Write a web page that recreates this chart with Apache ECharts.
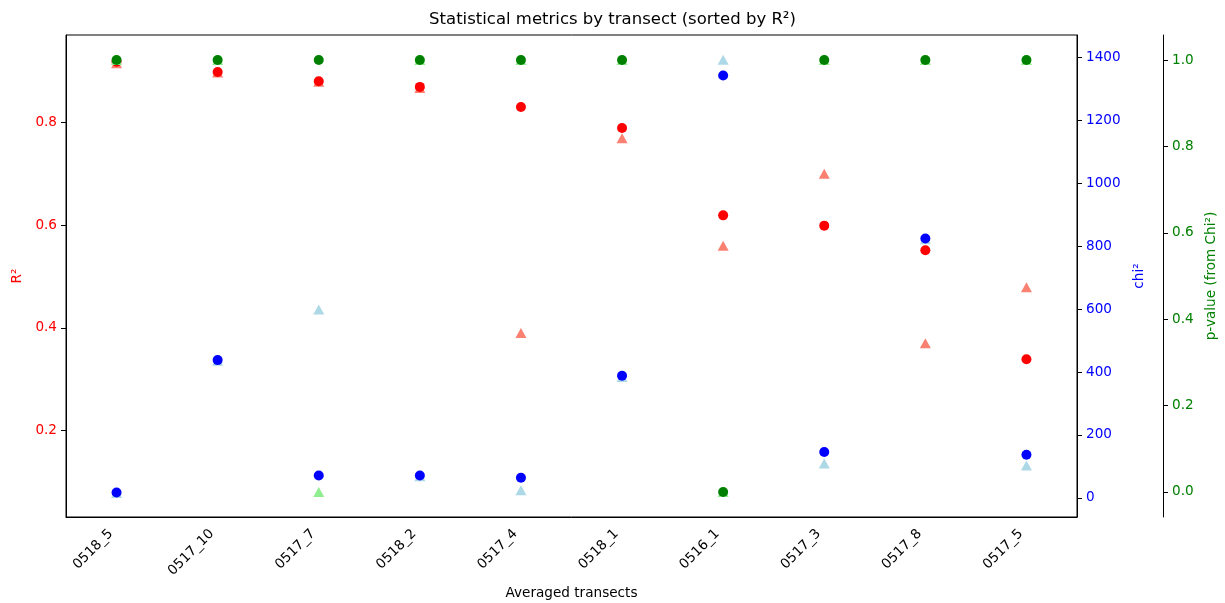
<!DOCTYPE html>
<html>
<head>
<meta charset="utf-8">
<script src="https://cdn.jsdelivr.net/npm/echarts@6/dist/echarts.min.js"></script>
<style>
  html, body { margin: 0; padding: 0; background: #fff; }
  #chart { width: 1225px; height: 603px; }
</style>
</head>
<body>
<div id="chart"></div>
<script>
// transects, sorted by R2
const transects = ['0518_5', '0517_10', '0517_7', '0518_2', '0517_4', '0518_1', '0516_1', '0517_3', '0517_8', '0517_5'];

// circles
const r2 = [0.918, 0.898, 0.880, 0.869, 0.830, 0.789, 0.619, 0.599, 0.551, 0.339];
const chi2 = [17, 438, 71, 71, 64, 388, 1343, 146, 825, 137];
const pValue = [1.0, 1.0, 1.0, 1.0, 1.0, 1.0, 0.0, 1.0, 1.0, 1.0];

// triangles
const r2Alt = [0.915, 0.897, 0.879, 0.867, 0.390, 0.769, 0.560, 0.700, 0.370, 0.479];
const chi2Alt = [15, 436, 599, 69, 24, 384, 1393, 109, 822, 103];
const pValueAlt = [1.0, 1.0, 0.0, 1.0, 1.0, 1.0, 0.0, 1.0, 1.0, 1.0];

// tick labels
const r2Ticks = [0.2, 0.4, 0.6, 0.8];
const chi2Ticks = [0, 200, 400, 600, 800, 1000, 1200, 1400];
const pTicks = [0.0, 0.2, 0.4, 0.6, 0.8, 1.0];

const font = 'DejaVu Sans';
const tickFont = 13.6;

function valueAxis(opts) {
    return {
        type: 'value',
        position: opts.position,
        offset: opts.offset || 0,
        min: opts.min,
        max: opts.max,
        name: opts.name,
        nameLocation: 'middle',
        nameGap: opts.nameGap,
        nameRotate: 90,
        nameTextStyle: { color: opts.color, fontFamily: font, fontSize: tickFont },
        splitLine: { show: false },
        axisLine: { show: true, onZero: false, lineStyle: { color: '#000', width: 1 } },
        axisTick: { show: true, length: 5, lineStyle: { color: '#000' }, customValues: opts.ticks },
        axisLabel: {
            color: opts.color,
            fontFamily: font,
            fontSize: tickFont,
            margin: 9,
            customValues: opts.ticks,
            formatter: opts.formatter
        }
    };
}

function dots(name, data, axis, symbol, color, z) {
    return {
        name: name,
        type: 'scatter',
        yAxisIndex: axis,
        symbol: symbol,
        symbolSize: symbol === 'triangle' ? [11, 10] : 10,
        itemStyle: { color: color, opacity: 1 },
        data: data,
        z: z,
        silent: true,
        animation: false
    };
}

const option = {
    animation: false,
    backgroundColor: '#fff',
    title: {
        text: 'Statistical metrics by transect (sorted by R²)',
        left: 'center',
        top: 6,
        textStyle: { color: '#000', fontFamily: font, fontSize: 16.5, fontWeight: 'normal' }
    },
    grid: {
        left: 66,
        right: 148,
        top: 35,
        bottom: 86,
        show: true,
        borderColor: '#000',
        borderWidth: 1,
        containLabel: false,
        outerBoundsMode: 'none'
    },
    xAxis: {
        type: 'category',
        data: transects,
        boundaryGap: true,
        name: 'Averaged transects',
        nameLocation: 'middle',
        nameGap: 69,
        nameTextStyle: { color: '#000', fontFamily: font, fontSize: tickFont },
        axisLine: { onZero: false, lineStyle: { color: '#000', width: 1 } },
        axisTick: { alignWithLabel: true, length: 5, lineStyle: { color: '#000' } },
        axisLabel: {
            rotate: 45,
            interval: 0,
            color: '#000',
            fontFamily: font,
            fontSize: tickFont,
            margin: 9,
            padding: [0, 8, 0, 0]
        },
        splitLine: { show: false }
    },
    yAxis: [
        valueAxis({
            position: 'left', min: 0.032, max: 0.970, ticks: r2Ticks,
            name: 'R²', nameGap: 42, color: '#ff0000',
            formatter: v => v.toFixed(1)
        }),
        valueAxis({
            position: 'right', min: -61, max: 1472, ticks: chi2Ticks,
            name: 'chi²', nameGap: 55, color: '#0000ff',
            formatter: v => String(v)
        }),
        valueAxis({
            position: 'right', offset: 86, min: -0.058, max: 1.058, ticks: pTicks,
            name: 'p-value (from Chi²)', nameGap: 41, color: '#008000',
            formatter: v => v.toFixed(1)
        })
    ],
    series: [
        dots('R² alt', r2Alt, 0, 'triangle', '#fa8072', 2),
        dots('R²', r2, 0, 'circle', '#ff0000', 3),
        dots('chi² alt', chi2Alt, 1, 'triangle', '#add8e6', 4),
        dots('chi²', chi2, 1, 'circle', '#0000ff', 5),
        dots('p alt', pValueAlt, 2, 'triangle', '#90ee90', 6),
        dots('p', pValue, 2, 'circle', '#008000', 7)
    ]
};

echarts.init(document.getElementById('chart')).setOption(option);
</script>
</body>
</html>
